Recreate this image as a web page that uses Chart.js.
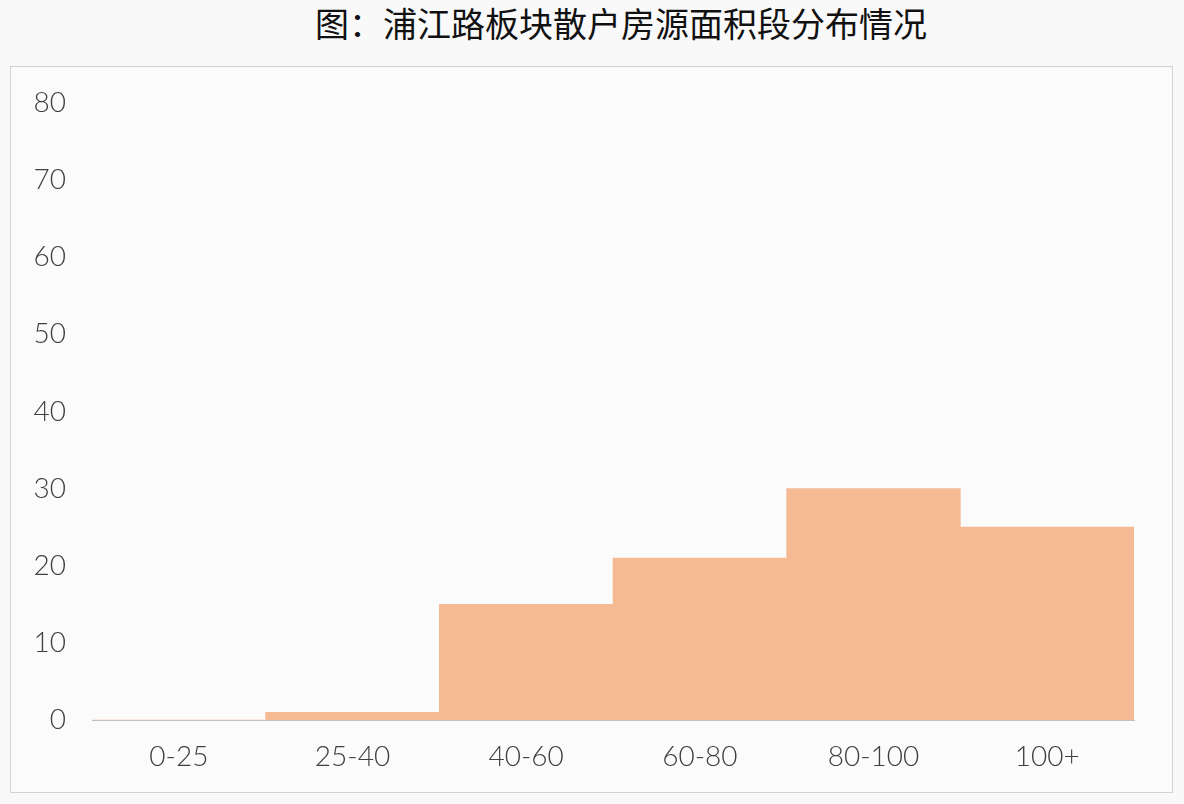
<!DOCTYPE html>
<html lang="zh">
<head>
    <meta charset="UTF-8">
    <title>浦江路板块散户房源面积段分布情况</title>
    <style>
        body {
            margin: 0;
            padding: 0;
            width: 1184px;
            height: 804px;
            background-color: #f9f9fa;
            position: relative;
            overflow: hidden;
        }
        h1 {
            position: absolute;
            top: 0;
            left: 0;
            width: 1242px;
            margin: 0;
            text-align: center;
            font-family: "Noto Sans CJK SC", sans-serif;
            font-weight: normal;
            font-size: 34px;
            line-height: 46px;
            color: #111;
        }
        #box {
            position: absolute;
            left: 10px;
            top: 66px;
            width: 1161px;
            height: 725px;
            border: 1px solid #d2d2d4;
            background-color: #fbfbfc;
        }
    </style>
</head>
<body>
    <h1>图：浦江路板块散户房源面积段分布情况</h1>
    <div id="box"><canvas id="area-chart"></canvas></div>

    <script src="https://cdn.jsdelivr.net/npm/chart.js"></script>
    <script>
        // datos del gráfico
        var categories = ['0-25', '25-40', '40-60', '60-80', '80-100', '100+'];
        var counts = [0, 1, 15, 21, 30, 25];
        var yTicks = [0, 10, 20, 30, 40, 50, 60, 70, 80];

        var labelFont = { family: 'Lato, "Noto Sans", sans-serif', size: 28, weight: 300 };

        var ctx = document.getElementById('area-chart').getContext('2d');
        new Chart(ctx, {
            type: 'bar',
            data: {
                labels: categories,
                datasets: [{
                    data: counts,
                    backgroundColor: '#f5b994',
                    borderWidth: 0,
                    categoryPercentage: 1,
                    barPercentage: 1
                }]
            },
            options: {
                responsive: true,
                maintainAspectRatio: false,
                animation: false,
                layout: { padding: { top: 36, right: 38, left: 0, bottom: 0 } },
                plugins: {
                    legend: { display: false },
                    tooltip: { enabled: false }
                },
                scales: {
                    x: {
                        grid: { display: false, drawTicks: false },
                        border: { display: true, color: '#bfbfbf', width: 1 },
                        ticks: { color: '#404040', font: labelFont, padding: 20, maxRotation: 0 },
                        afterFit: function (s) { s.height = 72; s.paddingLeft = 0; s.paddingRight = 0; }
                    },
                    y: {
                        min: yTicks[0],
                        max: yTicks[yTicks.length - 1],
                        afterBuildTicks: function (s) {
                            s.ticks = yTicks.map(function (v) { return { value: v }; });
                        },
                        grid: { display: false, drawTicks: false },
                        border: { display: false },
                        ticks: { color: '#404040', font: labelFont, padding: 26 },
                        afterFit: function (s) { s.width = 81; s.paddingTop = 0; s.paddingBottom = 0; }
                    }
                }
            }
        });
    </script>
</body>
</html>
